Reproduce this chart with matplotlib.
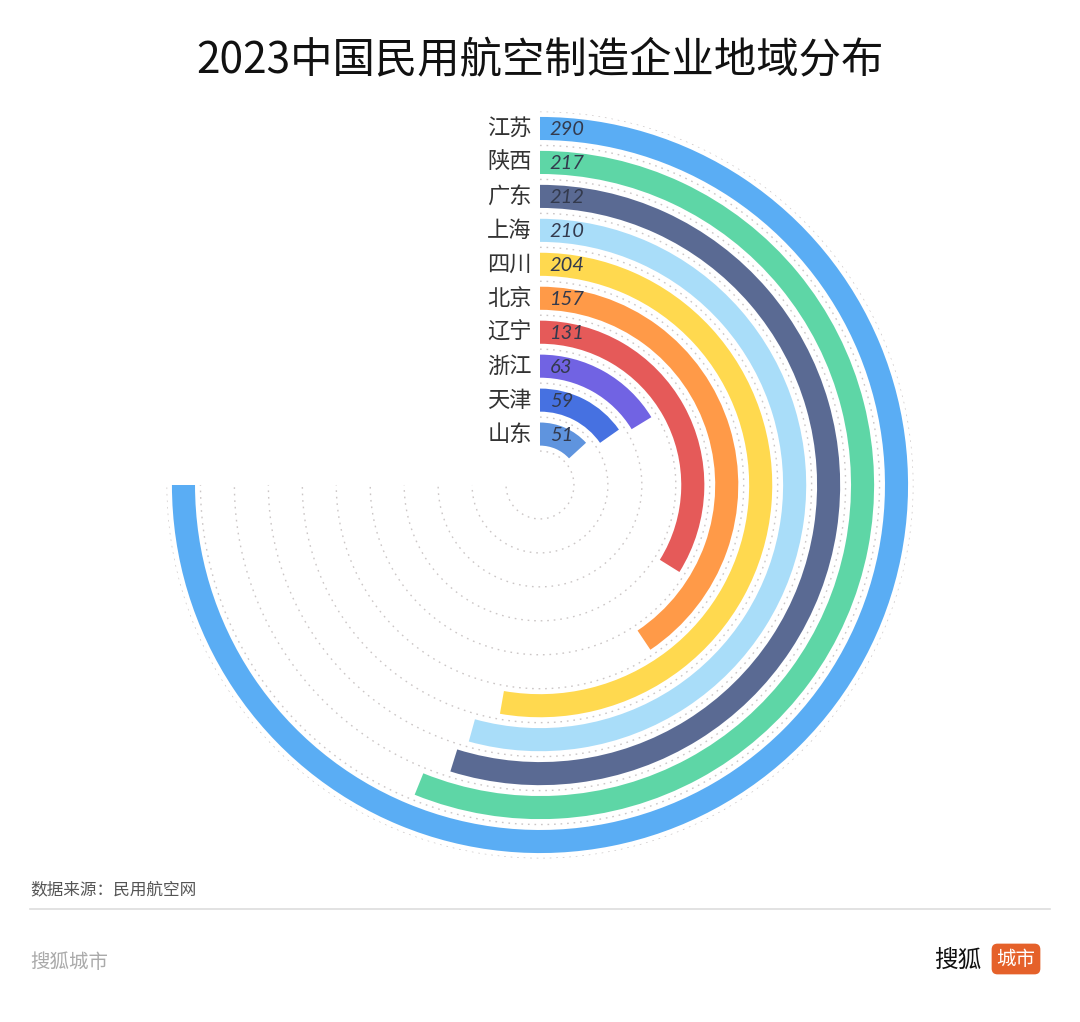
import numpy as np
import matplotlib
matplotlib.use('Agg')
import matplotlib.pyplot as plt
from matplotlib.lines import Line2D

plt.rcParams['font.family'] = ['Noto Sans CJK SC', 'DejaVu Sans']

# данные (сверху вниз = снаружи внутрь)
provinces = ['江苏', '陕西', '广东', '上海', '四川', '北京', '辽宁', '浙江', '天津', '山东']
values = [290, 217, 212, 210, 204, 157, 131, 63, 59, 51]
colors = ['#5AADF4', '#5ED6A6', '#5A6A93', '#A9DDF9', '#FFD94F',
          '#FF9A48', '#E55A59', '#7163E3', '#4671E1', '#5F94DE']
title = '2023中国民用航空制造企业地域分布'
source = '数据来源：民用航空网'

W, H = 1080, 1022
cx, cy, R = 540, 485, 373.5   # центр и внешний радиус в пикселях

fig = plt.figure(figsize=(W / 100, H / 100), dpi=100)
fig.patch.set_facecolor('white')
ax = fig.add_axes([(cx - R) / W, (H - cy - R) / H, 2 * R / W, 2 * R / H], projection='polar')
ax.set_theta_zero_location('N')
ax.set_theta_direction(-1)
ax.set_ylim(0, 11)
ax.set_axis_off()

vmax = max(values)
full = 1.5 * np.pi  # максимум = 270 градусов
n = len(values)

# пунктирные дуги между кольцами
tt = np.linspace(0, full, 400)
for k in range(n + 1):
    ax.plot(tt, np.full_like(tt, 1 + k), linestyle=(0, (1.2, 3.5)), color='#cbc6c6', lw=1.0, zorder=1)

for i, (name, v, c) in enumerate(zip(provinces, values, colors)):
    r = 1.5 + (n - 1 - i)
    sweep = v / vmax * full
    ax.bar(sweep / 2, 0.68, width=sweep, bottom=r - 0.34, color=c, edgecolor='none', zorder=2)
    ax.annotate(name, xy=(0, r), xytext=(-6, 0), textcoords='offset points',
                ha='right', va='center', fontsize=16, color='#333333', zorder=3)
    ax.annotate(str(v), xy=(0, r), xytext=(7, -1), textcoords='offset points',
                ha='left', va='center', fontsize=14.5, color='#333a4d', style='italic',
                family=['Lato', 'DejaVu Sans'], zorder=3)

fig.text(0.5, 1 - 61 / H, title, ha='center', va='center', fontsize=30.5, color='#111111', weight='medium')
fig.text(30 / W, 1 - 890 / H, source, ha='left', va='center', fontsize=12, color='#555555')
fig.add_artist(Line2D([30 / W, 1050 / W], [1 - 909 / H, 1 - 909 / H], color='#dddddd', lw=1.2))
fig.text(30 / W, 1 - 962 / H, '搜狐城市', ha='left', va='center', fontsize=14, color='#aaaaaa')
fig.text(958 / W, 1 - 960 / H, '搜狐', ha='center', va='center', fontsize=17, color='#111111', weight='medium')
fig.text(1016 / W, 1 - 959 / H, '城市', ha='center', va='center', fontsize=14, color='white',
         bbox=dict(boxstyle='round,pad=0.25,rounding_size=0.3', fc='#E5612A', ec='none'))

fig.savefig('out.png', dpi=100, facecolor='white')
